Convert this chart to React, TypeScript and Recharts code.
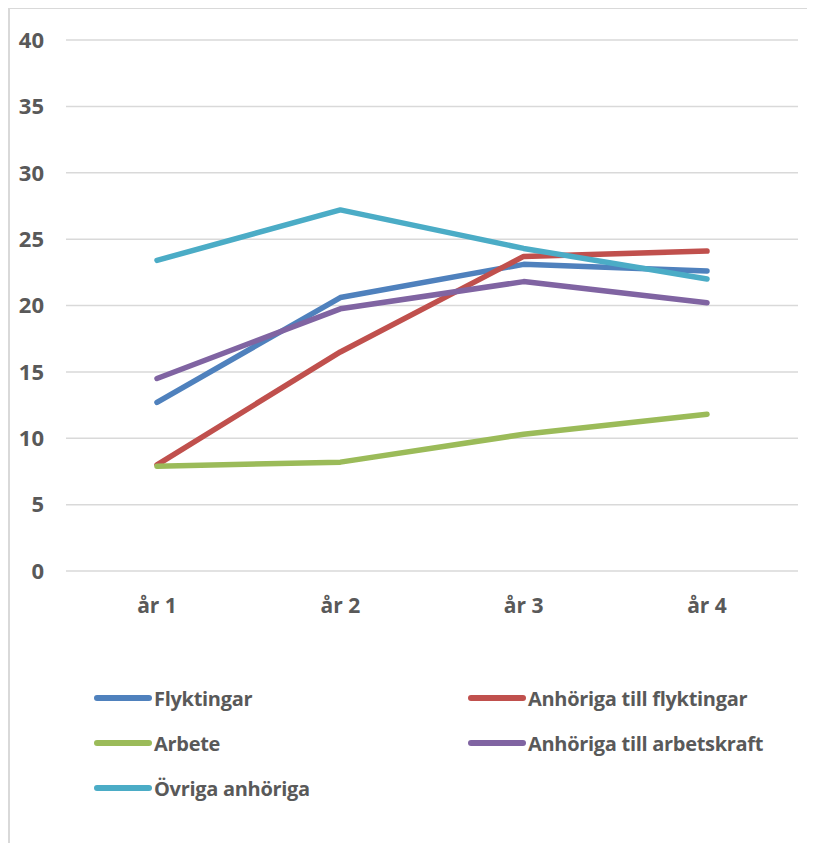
import React from 'react';
import { LineChart, Line, XAxis, YAxis, CartesianGrid, Legend } from 'recharts';

const years = ['år 1', 'år 2', 'år 3', 'år 4'];
const flyktingar = [12.7, 20.6, 23.1, 22.6];
const anhorigaFlyktingar = [8.0, 16.5, 23.7, 24.1];
const arbete = [7.9, 8.2, 10.3, 11.8];
const anhorigaArbetskraft = [14.5, 19.75, 21.8, 20.2];
const ovrigaAnhoriga = [23.4, 27.2, 24.3, 22.0];
const yTicks = [0, 5, 10, 15, 20, 25, 30, 35, 40];

const series = [
  { key: 'Flyktingar', values: flyktingar, color: '#4F81BD' },
  { key: 'Anhöriga till flyktingar', values: anhorigaFlyktingar, color: '#C0504D' },
  { key: 'Arbete', values: arbete, color: '#9BBB59' },
  { key: 'Anhöriga till arbetskraft', values: anhorigaArbetskraft, color: '#8064A2' },
  { key: 'Övriga anhöriga', values: ovrigaAnhoriga, color: '#4BACC6' },
];

const data = years.map((name, i) => {
  const row: any = { name };
  series.forEach((s) => (row[s.key] = s.values[i]));
  return row;
});

const labelFont = '"Open Sans", "DejaVu Sans", sans-serif';

// two-column legend like the Excel original, in series order
const ChartLegend = () => (
  <div style={{ position: 'relative', width: 815, height: 130 }}>
    {series.map((s, i) => {
      const col = i % 2;
      const row = Math.floor(i / 2);
      const left = col === 0 ? 94 : 468;
      const top = row * 45;
      return (
        <div
          key={s.key}
          style={{ position: 'absolute', left, top, display: 'flex', alignItems: 'center', height: 26 }}
        >
          <div style={{ width: 58, height: 6, borderRadius: 3, background: s.color }} />
          <span
            style={{
              marginLeft: 2,
              fontFamily: labelFont,
              fontWeight: 700,
              fontSize: 20,
              letterSpacing: -0.3,
              color: '#595959',
              whiteSpace: 'nowrap',
            }}
          >
            {s.key}
          </span>
        </div>
      );
    })}
  </div>
);

export default function App() {
  return (
    <div style={{ position: 'relative', width: 815, height: 851, margin: -8, overflow: 'hidden', background: '#fff' }}>
      <div
        style={{
          position: 'absolute',
          left: 8,
          top: 7,
          width: 900,
          height: 900,
          borderLeft: '2px solid #D9D9D9',
          borderTop: '2px solid #D9D9D9',
        }}
      />
      <div style={{ position: 'absolute', left: 0, top: 0 }}>
        <LineChart
          width={815}
          height={851}
          data={data}
          margin={{ top: 40, right: 17, left: 9, bottom: 0 }}
        >
          <CartesianGrid vertical={false} stroke="#D9D9D9" strokeWidth={1.5} />
          <XAxis
            dataKey="name"
            axisLine={false}
            tickLine={false}
            tickSize={0}
            tickMargin={27}
            height={280}
            padding={{ left: 91, right: 91 }}
            tick={{ fill: '#595959', fontSize: 21, fontWeight: 700, fontFamily: labelFont }}
          />
          <YAxis
            domain={[0, 40]}
            ticks={yTicks}
            interval={0}
            axisLine={false}
            tickLine={false}
            tickSize={0}
            tickMargin={22}
            width={57}
            tick={{ fill: '#595959', fontSize: 22, fontWeight: 700, fontFamily: labelFont }}
          />
          <Legend
            layout="horizontal"
            verticalAlign="middle"
            align="center"
            wrapperStyle={{ left: 0, top: 685, width: 815 }}
            content={<ChartLegend />}
          />
          {series.map((s) => (
            <Line
              key={s.key}
              dataKey={s.key}
              stroke={s.color}
              strokeWidth={5.5}
              strokeLinecap="round"
              strokeLinejoin="round"
              dot={false}
              activeDot={false}
              isAnimationActive={false}
            />
          ))}
        </LineChart>
      </div>
    </div>
  );
}
